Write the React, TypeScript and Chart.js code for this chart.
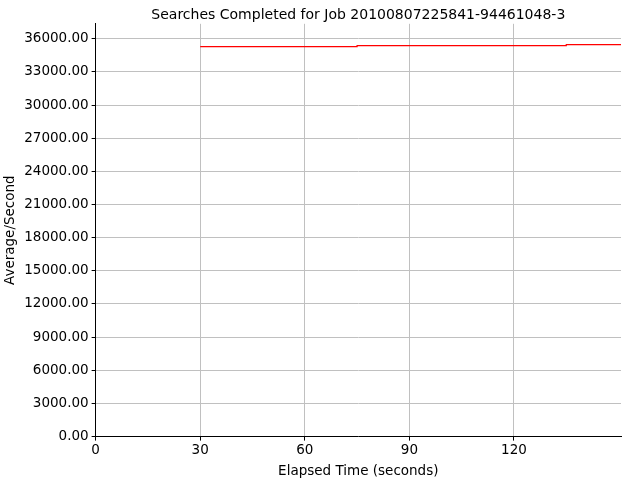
import { useEffect, useRef } from 'react'
import { Chart, registerables } from 'chart.js'

Chart.register(...registerables);

// step points: elapsed seconds vs average searches/second
const elapsed = [30, 75, 135, 150.7];
const avgPerSecond = [35290, 35375, 35460, 35460];

const xTicks = [0, 30, 60, 90, 120];
const yTicks = [0, 3000, 6000, 9000, 12000, 15000, 18000, 21000, 24000, 27000, 30000, 33000, 36000];

const FONT = 'DejaVu Sans';

// centre the title over the plot area rather than the whole canvas
const titleOverPlot = {
  id: 'titleOverPlot',
  afterLayout(chart: Chart) {
    const tb = (chart as any).titleBlock;
    if (!tb) return;
    tb.left = chart.chartArea.left;
    tb.right = chart.chartArea.right;
  },
};

export default function App() {
  const canvasRef = useRef<HTMLCanvasElement>(null);

  useEffect(() => {
    document.body.style.margin = '0';
    if (!canvasRef.current) return;
    const chart = new Chart(canvasRef.current, {
      type: 'scatter',
      data: {
        datasets: [{
          data: elapsed.map((x, i) => ({ x, y: avgPerSecond[i] })),
          showLine: true,
          stepped: true,
          borderColor: '#ff0000',
          borderWidth: 1.2,
          pointRadius: 0,
          fill: false,
        }],
      },
      options: {
        animation: false,
        responsive: false,
        layout: { padding: { top: 0, right: 19, left: 2, bottom: 0 } },
        plugins: {
          legend: { display: false },
          tooltip: { enabled: false },
          title: {
            display: true,
            text: 'Searches Completed for Job 20100807225841-94461048-3',
            color: '#000',
            font: { family: FONT, size: 14, weight: 'normal' },
            padding: { top: 7, bottom: 0 },
          },
        },
        scales: {
          x: {
            type: 'linear',
            min: 0,
            max: 150.7,
            afterBuildTicks: (axis) => { axis.ticks = xTicks.map(v => ({ value: v })); },
            ticks: { color: '#000', font: { family: FONT, size: 13.5 }, padding: 2, maxRotation: 0 },
            grid: { color: '#c0c0c0', tickColor: '#000', tickLength: 4 },
            border: { display: true, color: '#000', width: 1 },
            title: { display: true, text: 'Elapsed Time (seconds)', color: '#000', font: { family: FONT, size: 13.5 }, padding: { top: 3, bottom: 0 } },
          },
          y: {
            min: 0,
            max: 37350,
            afterBuildTicks: (axis) => { axis.ticks = yTicks.map(v => ({ value: v })); },
            ticks: { color: '#000', font: { family: FONT, size: 13.5 }, padding: 3, callback: (v) => Number(v).toFixed(2) },
            grid: { color: '#c0c0c0', tickColor: '#000', tickLength: 4 },
            border: { display: true, color: '#000', width: 1 },
            title: { display: true, text: 'Average/Second', color: '#000', font: { family: FONT, size: 13.5 }, padding: { top: 0, bottom: 3 } },
          },
        },
      },
      plugins: [titleOverPlot],
    });
    return () => chart.destroy();
  }, []);

  return (
    <div style={{ width: 640, height: 480, background: '#fff' }}>
      <canvas ref={canvasRef} width={640} height={480} />
    </div>
  );
}
